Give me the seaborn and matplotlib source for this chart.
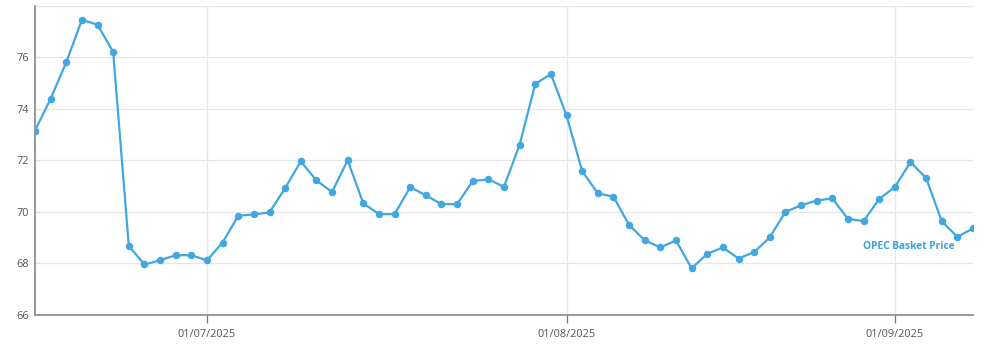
import matplotlib
matplotlib.use("Agg")
import matplotlib.pyplot as plt
import seaborn as sns
import pandas as pd
import numpy as np

# Trading days (weekdays) from 16 June 2025 to 8 Sept 2025
dates = pd.bdate_range("2025-06-16", "2025-09-08")
prices = [
    73.15, 74.39, 75.80, 77.45, 77.26, 76.20, 68.68, 67.96, 68.12, 68.32,
    68.32, 68.12, 68.81, 69.85, 69.90, 69.98, 70.92, 71.96, 71.22, 70.77,
    72.00, 70.33, 69.91, 69.91, 70.96, 70.64, 70.30, 70.30, 71.19, 71.26,
    70.97, 72.61, 74.96, 75.35, 73.74, 71.58, 70.72, 70.59, 69.49, 68.90,
    68.62, 68.89, 67.81, 68.37, 68.62, 68.19, 68.44, 69.01, 70.00, 70.25,
    70.44, 70.52, 69.73, 69.64, 70.50, 70.96, 71.93, 71.31, 69.64, 69.03,
    69.36,
]
tick_dates = ["2025-07-01", "2025-08-01", "2025-09-01"]
tick_labels = ["01/07/2025", "01/08/2025", "01/09/2025"]
y_ticks = [66, 68, 70, 72, 74, 76]
series_name = "OPEC Basket Price"

df = pd.DataFrame({"idx": np.arange(len(dates)), "date": dates, "price": prices})

sns.set_theme(style="white")
plt.rcParams["font.family"] = ["Open Sans", "DejaVu Sans"]

fig = plt.figure(figsize=(10, 3.55), dpi=100)
ax = fig.add_axes([0.035, 0.1127, 0.938, 0.8715])

line_color = "#41a7e1"
sns.lineplot(data=df, x="idx", y="price", ax=ax, color=line_color, linewidth=1.6,
             marker="o", markersize=5.4, markeredgewidth=0, markeredgecolor=line_color,
             zorder=3)

ax.set_xlim(0, len(dates) - 1)
ax.set_ylim(66, 78)

# horizontal grid
for v in y_ticks[1:] + [78]:
    ax.axhline(v, color="#e6e6e6", linewidth=0.9, zorder=0)

tick_pos = [int(np.where(dates == pd.Timestamp(d))[0][0]) for d in tick_dates]
for p in tick_pos:
    ax.axvline(p, color="#e6e6e6", linewidth=0.9, zorder=0)

ax.set_xticks(tick_pos)
ax.set_xticklabels(tick_labels)
ax.set_yticks(y_ticks)
ax.set_yticklabels([str(v) for v in y_ticks])

ax.tick_params(axis="x", which="both", bottom=True, length=6, width=0.9,
               color="#777777", labelsize=7.9, labelcolor="#555555", pad=4)
ax.tick_params(axis="y", which="both", left=False, length=0,
               labelsize=7.9, labelcolor="#555555", pad=4)

for s in ["top", "right"]:
    ax.spines[s].set_visible(False)
ax.spines["left"].set_color("#888888")
ax.spines["left"].set_linewidth(1.2)
ax.spines["bottom"].set_color("#888888")
ax.spines["bottom"].set_linewidth(1.2)

ax.set_xlabel("")
ax.set_ylabel("")

ax.text(58.8, 68.67, series_name, color="#3d9fdb", fontsize=7.3, fontweight="bold",
        ha="right", va="center")

fig.savefig("out.png", dpi=100)
